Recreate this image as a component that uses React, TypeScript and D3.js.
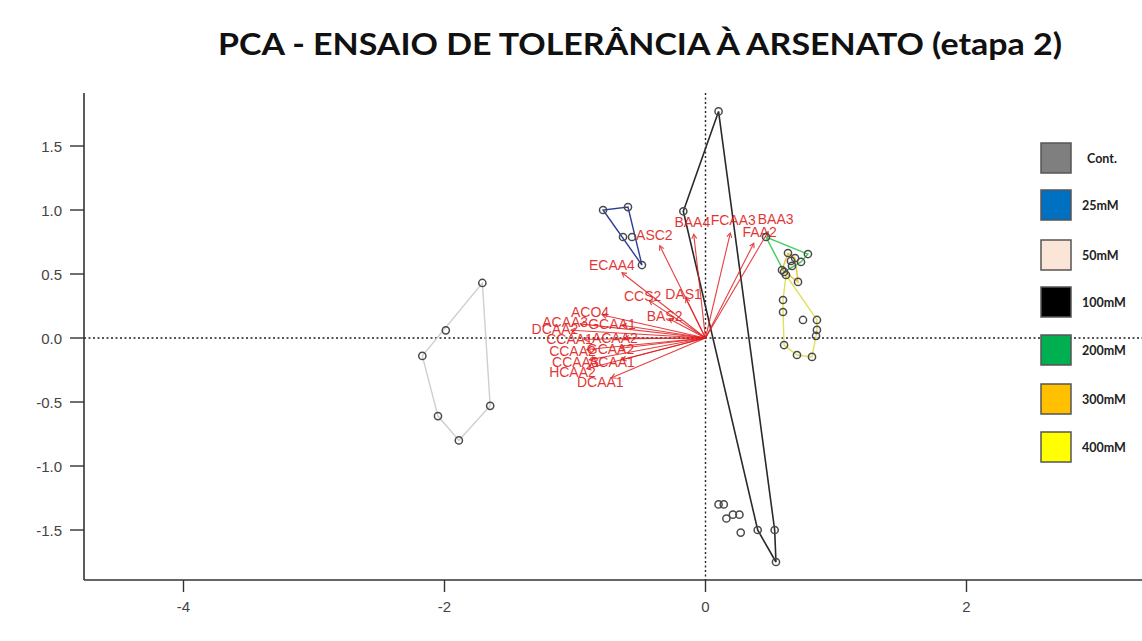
import React from "react";
import * as d3 from "d3";

const W = 1142;
const H = 641;

const titleText = "PCA - ENSAIO DE TOLERÂNCIA À ARSENATO (etapa 2)";
const xTicks = [-4, -2, 0, 2];
const yTicks = [-1.5, -1.0, -0.5, 0.0, 0.5, 1.0, 1.5];

const groupNames = ["Cont.", "25mM", "50mM", "100mM", "200mM", "300mM", "400mM"];
const legendFill = ["#7f7f7f", "#0070c0", "#fbe5d6", "#000000", "#00b050", "#ffc000", "#ffff00"];
const hullColor = ["none", "#2b3f9a", "#cfcfcf", "#2a2a2a", "#3fcf5a", "#f2c23a", "#e0e05a"];

const contPts: [number, number][] = [[0.10, -1.30], [0.14, -1.30], [0.16, -1.41], [0.21, -1.38], [0.26, -1.38], [0.27, -1.52]];
const mM25Pts: [number, number][] = [[-0.785, 1.0], [-0.594, 1.023], [-0.632, 0.789], [-0.563, 0.789], [-0.487, 0.57]];
const mM50Pts: [number, number][] = [[-1.71, 0.43], [-1.99, 0.06], [-2.17, -0.14], [-2.05, -0.61], [-1.89, -0.80], [-1.65, -0.53]];
const mM100Pts: [number, number][] = [[0.10, 1.77], [-0.17, 0.99], [0.40, -1.50], [0.53, -1.50], [0.54, -1.75]];
const mM200Pts: [number, number][] = [[0.464, 0.789], [0.785, 0.656], [0.732, 0.594], [0.602, 0.516], [0.655, 0.602]];
const mM300Pts: [number, number][] = [[0.632, 0.664], [0.686, 0.625], [0.663, 0.563], [0.586, 0.531], [0.709, 0.438]];
const mM400Pts: [number, number][] = [[0.617, 0.492], [0.594, 0.297], [0.594, 0.203], [0.747, 0.141], [0.854, 0.141], [0.854, 0.063], [0.847, 0.016], [0.602, -0.055], [0.701, -0.133], [0.816, -0.148]];

const groupPts = [contPts, mM25Pts, mM50Pts, mM100Pts, mM200Pts, mM300Pts, mM400Pts];

const loadingNames = ["ECAA4", "ASC2", "CCS2", "DAS1", "BAS2", "BAA4", "FCAA3", "BAA3", "FAA2", "ACO4", "ACAA3", "DCAA2", "GCAA1", "CCAA1", "ACAA2", "CCAA2", "GCAA2", "CCAA3", "ACAA1", "HCAA2", "DCAA1"];
const loadingX = [-0.64, -0.35, -0.43, -0.15, -0.28, -0.09, 0.19, 0.48, 0.37, -0.79, -0.96, -1.03, -0.64, -0.93, -0.62, -0.91, -0.65, -0.89, -0.64, -0.91, -0.72];
const loadingY = [0.51, 0.72, 0.29, 0.31, 0.15, 0.81, 0.82, 0.83, 0.74, 0.18, 0.11, 0.06, 0.10, -0.01, 0.0, -0.09, -0.08, -0.17, -0.17, -0.24, -0.31];

export default function App() {
  const x = d3.scaleLinear().domain([-4, 2]).range([183.5, 966.5]);
  const y = d3.scaleLinear().domain([-1.5, 1.5]).range([530, 146]);
  const axL = 84, axB = 580, axT = 93;
  const red = "#e01f1f";
  const labelScale = 1.12;

  const arrows = loadingNames.map((n, i) => {
    const x0 = x(0), y0 = y(0);
    const x1 = x(loadingX[i]), y1 = y(loadingY[i]);
    const a = Math.atan2(y1 - y0, x1 - x0);
    const L = 5;
    const h1 = [x1 - L * Math.cos(a - Math.PI / 6), y1 - L * Math.sin(a - Math.PI / 6)];
    const h2 = [x1 - L * Math.cos(a + Math.PI / 6), y1 - L * Math.sin(a + Math.PI / 6)];
    return { n, x0, y0, x1, y1, h1, h2, lx: x(loadingX[i] * labelScale), ly: y(loadingY[i] * labelScale) };
  });

  return (
    <div style={{ position: "absolute", left: 0, top: 0 }}>
      <svg width={W} height={H} style={{ display: "block", background: "#fff" }}>
        <text x={640} y={55} textAnchor="middle" textLength={844} lengthAdjust="spacingAndGlyphs" fontFamily="Lato, 'Open Sans', sans-serif" fontWeight={700} fontSize={31} fill="#111">{titleText}</text>

        {/* dotted reference lines */}
        <line x1={axL} x2={W} y1={y(0)} y2={y(0)} stroke="#222" strokeWidth={1.4} strokeDasharray="2,2.5" />
        <line x1={x(0)} x2={x(0)} y1={axT} y2={axB} stroke="#222" strokeWidth={1.4} strokeDasharray="2,2.5" />

        {/* hulls */}
        {groupPts.map((pts, gi) => {
          if (hullColor[gi] === "none") return null;
          const hull = d3.polygonHull(pts.map(p => [x(p[0]), y(p[1])] as [number, number]));
          if (!hull) return null;
          return <path key={"h" + gi} d={"M" + hull.map(p => p.join(",")).join("L") + "Z"} fill="none" stroke={hullColor[gi]} strokeWidth={gi === 3 ? 1.6 : 1.4} />;
        })}

        {/* arrows */}
        {arrows.map((a, i) => (
          <g key={"a" + i} stroke={red} strokeWidth={1.1} fill="none" opacity={0.85}>
            <line x1={a.x0} y1={a.y0} x2={a.x1} y2={a.y1} />
            <path d={`M${a.h1[0]},${a.h1[1]}L${a.x1},${a.y1}L${a.h2[0]},${a.h2[1]}`} />
          </g>
        ))}
        {arrows.map((a, i) => (
          <text key={"t" + i} x={a.lx} y={a.ly} textAnchor="middle" dominantBaseline="central" fontFamily="'Liberation Sans', Arial, sans-serif" fontSize={14} fill={red} opacity={0.9}>{a.n}</text>
        ))}

        {/* points */}
        {groupPts.map((pts, gi) => pts.map((p, pi) => (
          <circle key={`p${gi}-${pi}`} cx={x(p[0])} cy={y(p[1])} r={3.6} fill="none" stroke="#4a4a4a" strokeWidth={1.5} />
        )))}

        {/* axes */}
        <line x1={axL} x2={axL} y1={axT} y2={axB} stroke="#333" strokeWidth={1.6} />
        <line x1={axL} x2={W} y1={axB} y2={axB} stroke="#333" strokeWidth={1.6} />
        {yTicks.map(t => (
          <g key={"yt" + t}>
            <line x1={axL - 14} x2={axL} y1={y(t)} y2={y(t)} stroke="#333" strokeWidth={1.4} />
            <text x={axL - 22} y={y(t)} textAnchor="end" dominantBaseline="central" fontFamily="'Liberation Sans', Arial, sans-serif" fontSize={15} fill="#444">{t.toFixed(1)}</text>
          </g>
        ))}
        {xTicks.map(t => (
          <g key={"xt" + t}>
            <line x1={x(t)} x2={x(t)} y1={axB} y2={axB + 12} stroke="#333" strokeWidth={1.4} />
            <text x={x(t)} y={606} textAnchor="middle" dominantBaseline="central" fontFamily="'Liberation Sans', Arial, sans-serif" fontSize={15} fill="#444">{String(t)}</text>
          </g>
        ))}

        {/* legend */}
        {groupNames.map((n, i) => {
          const tops = [143, 190, 240, 287, 335, 384, 432];
          return (
            <g key={"l" + i}>
              <rect x={1041} y={tops[i]} width={30} height={30} fill={legendFill[i]} stroke="#555" strokeWidth={1.5} />
              <text x={i === 0 ? 1087 : 1082} y={tops[i] + 15} dominantBaseline="central" fontFamily="Lato, 'Open Sans', sans-serif" fontWeight={700} fontSize={12.5} fill="#222">{n}</text>
            </g>
          );
        })}
      </svg>
    </div>
  );
}
